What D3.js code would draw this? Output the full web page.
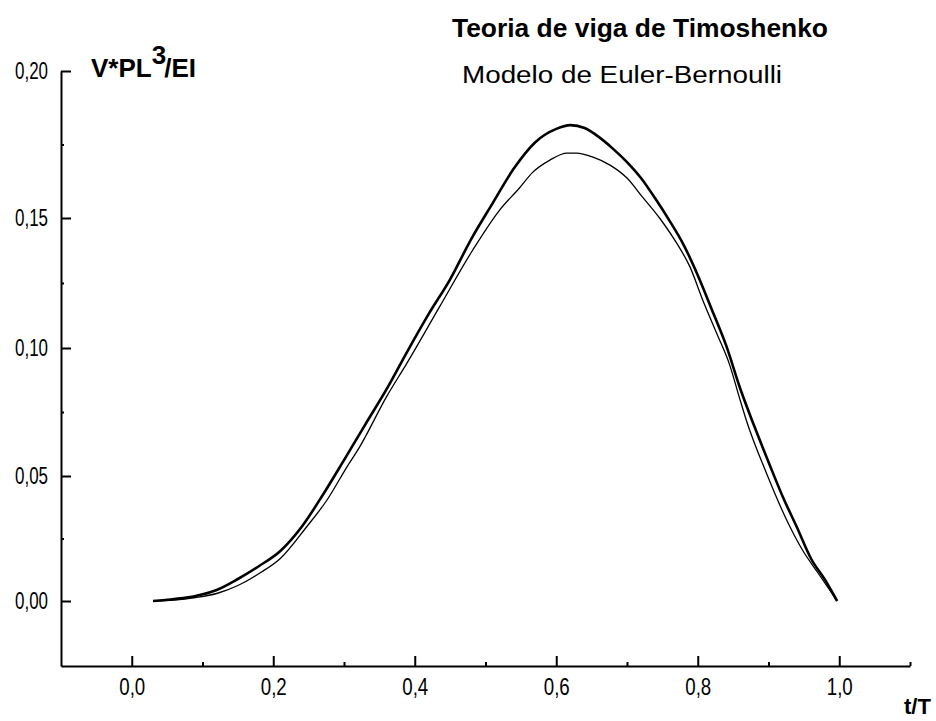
<!DOCTYPE html>
<html>
<head>
<meta charset="utf-8">
<script src="https://cdnjs.cloudflare.com/ajax/libs/d3/7.8.5/d3.min.js"></script>
<style>
  body { margin: 0; background: #fff; }
  .lbl { font-family: "Liberation Sans", Arial, sans-serif; }
</style>
</head>
<body>
<div id="chart"></div>
<script>
(function(){

    //data
    var tTimoshenko = [0.03,0.06,0.09,0.12,0.15,0.18,0.21,0.24,0.27,0.30,0.33,0.36,0.39,0.42,0.45,0.48,0.51,0.54,0.57,0.60,0.62,0.64,0.66,0.68,0.70,0.72,0.74,0.76,0.78,0.80,0.82,0.84,0.86,0.88,0.90,0.92,0.94,0.96,0.98,0.997];
    var vTimoshenko = [0,0.0008,0.002,0.0044,0.0088,0.014,0.020,0.0296,0.0424,0.0562,0.0701,0.0838,0.0989,0.1132,0.1264,0.142,0.155,0.1668,0.1757,0.1803,0.1816,0.1806,0.1776,0.1736,0.169,0.1635,0.1566,0.149,0.1397,0.128,0.1147,0.1011,0.0842,0.0694,0.0555,0.0418,0.0296,0.017,0.0084,0];

    var tEuler = [0.03,0.06,0.09,0.12,0.15,0.18,0.21,0.247,0.276,0.304,0.322,0.36,0.389,0.435,0.482,0.52,0.548,0.567,0.591,0.615,0.629,0.652,0.676,0.70,0.722,0.746,0.770,0.789,0.807,0.827,0.845,0.859,0.869,0.898,0.926,0.948,0.970,0.997];
    var vEuler = [0,0.0004,0.0014,0.003,0.0062,0.011,0.017,0.0296,0.0404,0.0535,0.0613,0.0809,0.0941,0.1158,0.1377,0.1527,0.1602,0.1656,0.1697,0.1721,0.1721,0.1707,0.168,0.1636,0.1571,0.150,0.1404,0.1312,0.1185,0.1055,0.0935,0.0805,0.0715,0.0505,0.0322,0.0204,0.0112,0];

    var xMajor = [0, 0.2, 0.4, 0.6, 0.8, 1.0];
    var xMinor = [0.1, 0.3, 0.5, 0.7, 0.9, 1.1];
    var yMajor = [0, 0.05, 0.10, 0.15, 0.20];
    var yMinor = [0.025, 0.075, 0.125, 0.175];

    var titleLines = ["Teoria de viga de Timoshenko", "Modelo de Euler-Bernoulli"];

    //SVG
    var width = 936;
    var height = 721;
    var svg = d3.select("#chart").append("svg")
        .attr("width", width)
        .attr("height", height)
        .style("background", "#fff");

    //scales (y is piecewise to follow the scanned axis)
    var x = d3.scaleLinear().domain([-0.1, 1.1]).range([61, 910]);
    var y = d3.scaleLinear()
        .domain([-0.025, 0, 0.05, 0.10, 0.15, 0.20])
        .range([666, 601, 476, 348, 218, 71]);

    var fmt = d3.formatLocale({decimal: ",", thousands: ".", grouping: [3], currency: ["", ""]});

    //axes
    svg.append("g")
        .attr("class", "xaxis")
        .attr("transform", "translate(0,666)")
        .call(d3.axisBottom(x).tickValues(xMajor).tickSizeInner(-10).tickSizeOuter(0)
            .tickPadding(13).tickFormat(fmt.format(".1f")));
    svg.append("g")
        .attr("transform", "translate(0,666)")
        .call(d3.axisBottom(x).tickValues(xMinor).tickSizeInner(-4).tickSizeOuter(0).tickFormat(""))
        .select(".domain").remove();

    svg.append("g")
        .attr("class", "yaxis")
        .attr("transform", "translate(61,0)")
        .call(d3.axisLeft(y).tickValues(yMajor).tickSizeInner(-10).tickSizeOuter(0)
            .tickPadding(13).tickFormat(fmt.format(".2f")));
    svg.append("g")
        .attr("transform", "translate(61,0)")
        .call(d3.axisLeft(y).tickValues(yMinor).tickSizeInner(-3).tickSizeOuter(0).tickFormat(""))
        .select(".domain").remove();

    svg.selectAll(".domain").attr("stroke", "#000").attr("stroke-width", 2);
    svg.selectAll(".tick line").attr("stroke", "#000").attr("stroke-width", 2);
    svg.selectAll(".tick text")
        .attr("class", "lbl")
        .attr("font-size", 23)
        .attr("fill", "#000")
        .attr("lengthAdjust", "spacingAndGlyphs");
    // narrow tick labels like the scanned font
    svg.selectAll(".xaxis .tick text").attr("textLength", 26);
    svg.selectAll(".yaxis .tick text").attr("textLength", 33);

    //curves
    var line = d3.line()
        .x(function(d){ return x(d[0]); })
        .y(function(d){ return y(d[1]); })
        .curve(d3.curveMonotoneX);

    var timo = tTimoshenko.map(function(t, i){ return [t, vTimoshenko[i]]; });
    var euler = tEuler.map(function(t, i){ return [t, vEuler[i]]; });

    svg.append("path").datum(euler)
        .attr("d", line)
        .attr("fill", "none")
        .attr("stroke", "#000")
        .attr("stroke-width", 1.3);

    svg.append("path").datum(timo)
        .attr("d", line)
        .attr("fill", "none")
        .attr("stroke", "#000")
        .attr("stroke-width", 2.6);

    //titles
    svg.append("text")
        .attr("class", "lbl")
        .attr("x", 452).attr("y", 37)
        .attr("font-size", 25).attr("font-weight", "bold")
        .attr("textLength", 376).attr("lengthAdjust", "spacingAndGlyphs")
        .text(titleLines[0]);
    svg.append("text")
        .attr("class", "lbl")
        .attr("x", 462).attr("y", 83)
        .attr("font-size", 23)
        .attr("textLength", 320).attr("lengthAdjust", "spacingAndGlyphs")
        .text(titleLines[1]);

    //axis labels
    var yl = svg.append("text")
        .attr("class", "lbl")
        .attr("x", 91).attr("y", 77)
        .attr("font-size", 26).attr("font-weight", "bold");
    yl.append("tspan").text("V*PL");
    yl.append("tspan").attr("dy", -13).attr("dx", 0).text("3");
    yl.append("tspan").attr("dy", 13).attr("dx", -2).text("/EI");

    svg.append("text")
        .attr("class", "lbl")
        .attr("x", 904).attr("y", 714)
        .attr("font-size", 22).attr("font-weight", "bold")
        .text("t/T");

})();
</script>
</body>
</html>
